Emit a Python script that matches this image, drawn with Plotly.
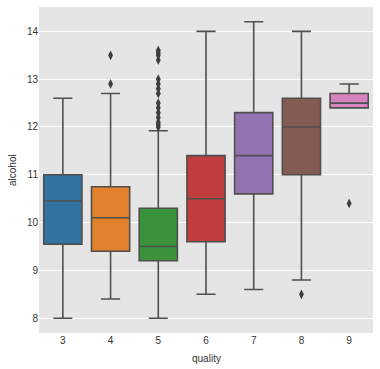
import plotly.graph_objects as go

quality = ["3", "4", "5", "6", "7", "8", "9"]
q1 = [9.55, 9.4, 9.2, 9.6, 10.6, 11.0, 12.4]
median = [10.45, 10.1, 9.5, 10.5, 11.4, 12.0, 12.5]
q3 = [11.0, 10.75, 10.3, 11.4, 12.3, 12.6, 12.7]
lower_whisker = [8.0, 8.4, 8.0, 8.5, 8.6, 8.8, 12.4]
upper_whisker = [12.6, 12.7, 11.92, 14.0, 14.2, 14.0, 12.9]
colors = ["#3274a1", "#e1812c", "#3a923a", "#c03d3e", "#9372b2", "#845b53", "#d684bd"]

outlier_quality = ["4", "4",
                   "5", "5", "5", "5", "5", "5", "5", "5", "5", "5", "5", "5", "5", "5", "5",
                   "8", "9"]
outlier_alcohol = [12.9, 13.5,
                   12.0, 12.05, 12.1, 12.2, 12.3, 12.4, 12.5, 12.7, 12.8, 12.9, 13.0, 13.4, 13.5, 13.55, 13.6,
                   8.5, 10.4]

pos = {q: i for i, q in enumerate(quality)}

fig = go.Figure()
for i, q in enumerate(quality):
    fig.add_trace(go.Box(
        x=[pos[q]], q1=[q1[i]], median=[median[i]], q3=[q3[i]],
        lowerfence=[lower_whisker[i]], upperfence=[upper_whisker[i]],
        width=0.8, whiskerwidth=0.5,
        fillcolor=colors[i],
        line=dict(color="#4f4f4f", width=1.6),
        boxpoints=False, showlegend=False, hoverinfo="skip",
    ))

fig.add_trace(go.Scatter(
    x=[pos[q] for q in outlier_quality], y=outlier_alcohol, mode="markers",
    marker=dict(symbol="diamond-tall", size=7, color="#3d3d3d"),
    showlegend=False, hoverinfo="skip",
))

fig.update_layout(
    width=380, height=369,
    margin=dict(l=39, r=7, t=7, b=36, autoexpand=False),
    paper_bgcolor="white", plot_bgcolor="#e5e5e5",
    font=dict(family="Liberation Sans, Arial, sans-serif", size=10, color="#333333"),
    boxmode="overlay",
    annotations=[
        dict(text="quality", xref="paper", yref="paper", x=0.5, y=0, yshift=-25,
             showarrow=False, xanchor="center", yanchor="middle", font=dict(size=10)),
        dict(text="alcohol", xref="paper", yref="paper", x=0, y=0.5, xshift=-27,
             showarrow=False, xanchor="center", yanchor="middle", textangle=-90, font=dict(size=10)),
    ],
)
fig.update_xaxes(
    range=[-0.5, 6.5], tickmode="array", tickvals=list(range(len(quality))), ticktext=quality,
    showgrid=False, zeroline=False, ticks="", ticklen=0, automargin=False,
)
fig.update_yaxes(
    range=[7.69, 14.51], tickmode="array", tickvals=[8, 9, 10, 11, 12, 13, 14],
    showgrid=True, gridcolor="white", gridwidth=1, zeroline=False, ticks="", automargin=False,
)

fig.write_html(
    "out.html",
    config={"displayModeBar": False},
    post_script="document.body.style.margin='0';document.body.style.padding='0';document.body.style.overflow='hidden';",
)
